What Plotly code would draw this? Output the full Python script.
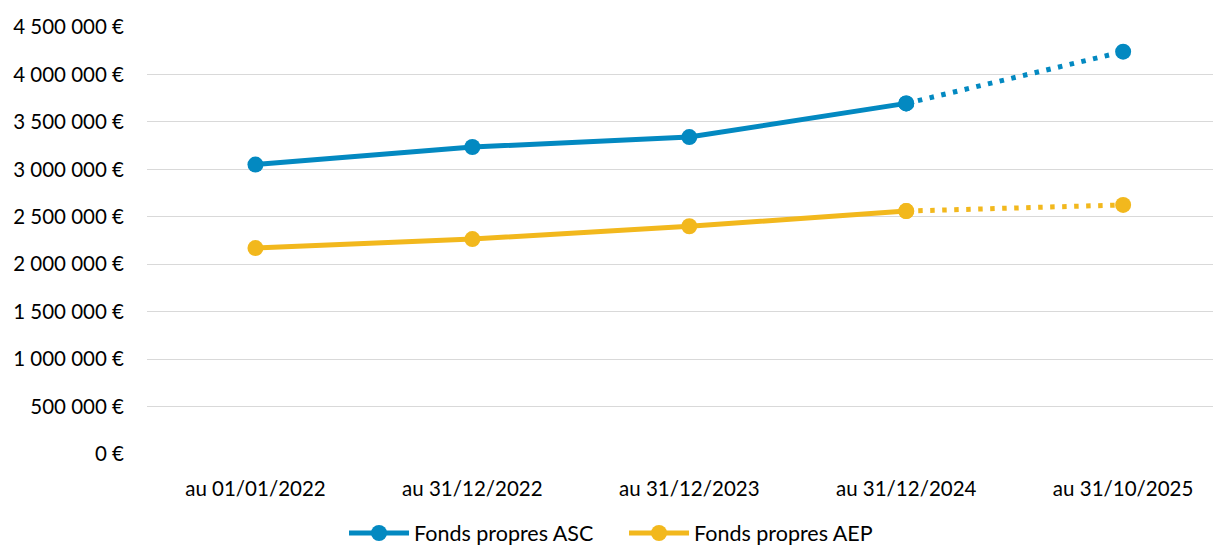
import plotly.graph_objects as go

categories = ["au 01/01/2022", "au 31/12/2022", "au 31/12/2023", "au 31/12/2024", "au 31/10/2025"]
asc_values = [3050000, 3235000, 3340000, 3695000, 4240000]
aep_values = [2170000, 2265000, 2400000, 2560000, 2625000]
y_ticks = [0, 500000, 1000000, 1500000, 2000000, 2500000, 3000000, 3500000, 4000000, 4500000]
y_tick_labels = ["0 €", "500 000 €", "1 000 000 €", "1 500 000 €", "2 000 000 €",
                 "2 500 000 €", "3 000 000 €", "3 500 000 €", "4 000 000 €", "4 500 000 €"]

BLUE = "#0389C1"
YELLOW = "#F2B81D"
FONT = "Lato"
FS = 20.5

fig = go.Figure()
xi = list(range(len(categories)))

for name, vals, col in [("Fonds propres ASC", asc_values, BLUE), ("Fonds propres AEP", aep_values, YELLOW)]:
    fig.add_trace(go.Scatter(
        x=xi[:4], y=vals[:4], mode="lines+markers", name=name,
        line=dict(color=col, width=5), marker=dict(color=col, size=16),
    ))
    fig.add_trace(go.Scatter(
        x=xi[3:], y=vals[3:], mode="lines+markers", showlegend=False,
        line=dict(color=col, width=5, dash="4.5px,7.5px"), marker=dict(color=col, size=16),
    ))

# page body has an 8px margin: compensate so the plot area lands where the reference has it
fig.update_layout(
    width=1221, height=546,
    margin=dict(l=138.5, r=0, t=18.7, b=100.4, autoexpand=False),
    paper_bgcolor="white", plot_bgcolor="white",
    font=dict(family=FONT, size=FS, color="#000000"),
    showlegend=True,
    legend=dict(orientation="h", xref="container", x=0.2752, xanchor="left",
                y=-0.185, yanchor="middle", entrywidth=205, entrywidthmode="pixels",
                font=dict(family=FONT, size=21.5, color="#000000"), itemwidth=60,
                bgcolor="rgba(0,0,0,0)"),
    xaxis=dict(range=[-0.5, 4.488], tickmode="array", tickvals=xi, ticktext=categories,
               showgrid=False, zeroline=False, showline=False, ticks="", automargin=False,
               ticklabelstandoff=20, fixedrange=True),
    yaxis=dict(range=[0, 4500000], tickmode="array", tickvals=y_ticks, ticktext=y_tick_labels,
               showgrid=True, gridcolor="#D9D9D9", gridwidth=1.3, zeroline=False, automargin=False,
               showline=False, ticks="", ticklabelstandoff=22, fixedrange=True),
)

fig.write_html("out.html")
